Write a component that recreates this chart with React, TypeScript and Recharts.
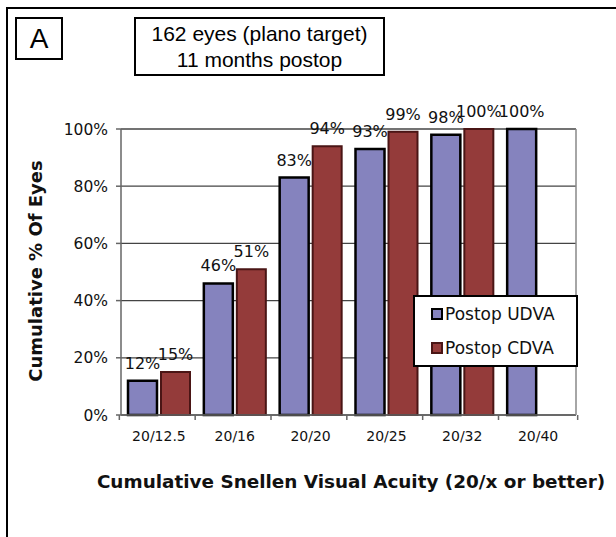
import React from "react";
import { BarChart, Bar, XAxis, YAxis, CartesianGrid, LabelList } from "recharts";

const categories = ["20/12.5", "20/16", "20/20", "20/25", "20/32", "20/40"];
const udva = [12, 46, 83, 93, 98, 100];
const cdva: (number | null)[] = [15, 51, 94, 99, 100, null];
const yTicks = [0, 20, 40, 60, 80, 100];
const seriesNames = ["Postop UDVA", "Postop CDVA"];

const PURPLE = "#8583BE";
const RED = "#943B3A";

const data = categories.map((name, i) => ({ name, udva: udva[i], cdva: cdva[i] }));

const W = 616;
const H = 537;
const X_AXIS_H = 30;
const MARGIN = { top: 129, right: 20, bottom: 122 - X_AXIS_H, left: 0 };
const Y_AXIS_W = 121;
const BAND = (W - MARGIN.right - Y_AXIS_W) / categories.length;

const font = "'DejaVu Sans', Verdana, sans-serif";

// x tick: label at centre, tick marks between categories (Excel style)
const XTick = ({ x, y, payload, index }: any) => {
  const half = BAND / 2;
  const ay = y - 8; // axis line position (tickSize 6 + tickMargin 2)
  return (
    <g>
      <line x1={x - half} y1={ay} x2={x - half} y2={ay + 5} stroke="#666" strokeWidth={1.5} />
      {index === categories.length - 1 && (
        <line x1={x + half} y1={ay} x2={x + half} y2={ay + 5} stroke="#666" strokeWidth={1.5} />
      )}
      <text x={x} y={ay + 21} dy="0.35em" textAnchor="middle" fontSize={14} fontFamily={font} fill="#111">
        {payload.value}
      </text>
    </g>
  );
};

const LegendBox = () => (
  <div
    style={{
      position: "absolute",
      left: 413,
      top: 295,
      width: 165,
      height: 72,
      border: "2px solid #000",
      background: "#fff",
      boxSizing: "border-box",
      fontFamily: font,
      fontSize: 17,
      color: "#111",
      paddingTop: 7,
      paddingLeft: 16,
    }}
  >
    {[
      { label: seriesNames[0], fill: PURPLE, stroke: "#000" },
      { label: seriesNames[1], fill: RED, stroke: "#4a1515" },
    ].map((it, i) => (
      <div key={it.label} style={{ display: "flex", alignItems: "center", height: 20, marginBottom: i === 0 ? 14 : 0 }}>
        <span
          style={{
            display: "inline-block",
            width: 8,
            height: 8,
            background: it.fill,
            border: `2px solid ${it.stroke}`,
            marginRight: 2,
          }}
        />
        {it.label}
      </div>
    ))}
  </div>
);

const pct = (v: any) => (v == null ? "" : `${v}%`);

export default function App() {
  return (
    <div style={{ position: "fixed", left: 0, top: 0, width: W, height: H, background: "#fff", overflow: "hidden" }}>
      {/* outer frame */}
      <div style={{ position: "absolute", left: 6, top: 7, width: 640, height: 560, borderLeft: "2px solid #000", borderTop: "2px solid #000" }} />
      {/* panel letter */}
      <div
        style={{
          position: "absolute", left: 15, top: 17, width: 48, height: 43, border: "2px solid #000", boxSizing: "border-box",
          fontFamily: "'Liberation Sans', Arial, sans-serif", fontSize: 28, display: "flex", alignItems: "center", justifyContent: "center",
        }}
      >
        A
      </div>
      {/* title box */}
      <div
        style={{
          position: "absolute", left: 134, top: 17, width: 251, height: 59, border: "2px solid #000", boxSizing: "border-box",
          fontFamily: "'Liberation Sans', Arial, sans-serif", fontSize: 21, lineHeight: "26px", textAlign: "center", paddingTop: 2,
        }}
      >
        162 eyes (plano target)
        <br />
        11 months postop
      </div>
      {/* y axis title */}
      <div
        style={{
          position: "absolute", left: 35, top: 271, transform: "translate(-50%, -50%) rotate(-90deg)", whiteSpace: "nowrap",
          fontFamily: font, fontWeight: "bold", fontSize: 18, color: "#111",
        }}
      >
        Cumulative % Of Eyes
      </div>
      {/* x axis title */}
      <div
        style={{
          position: "absolute", left: 351, top: 481, transform: "translate(-50%, -50%)", whiteSpace: "nowrap",
          fontFamily: font, fontWeight: "bold", fontSize: 18.4, color: "#111",
        }}
      >
        Cumulative Snellen Visual Acuity (20/x or better)
      </div>
      <div style={{ position: "absolute", left: 0, top: 0 }}>
        <BarChart width={W} height={H} data={data} margin={MARGIN} barCategoryGap={7} barGap={4}>
          <CartesianGrid yAxisId="l" vertical={false} stroke="#444" strokeWidth={1.3} />
          <XAxis
            dataKey="name"
            height={X_AXIS_H}
            axisLine={{ stroke: "#666", strokeWidth: 1.5 }}
            tickLine={false}
            tickSize={6}
            tickMargin={2}
            tick={<XTick />}
            interval={0}
          />
          <YAxis
            yAxisId="l"
            width={Y_AXIS_W}
            domain={[0, 100]}
            ticks={yTicks}
            tickFormatter={(v) => `${v}%`}
            axisLine={{ stroke: "#666", strokeWidth: 1.5 }}
            tickLine={{ stroke: "#666", strokeWidth: 1.5 }}
            tickSize={5}
            tickMargin={8}
            tick={{ fontSize: 15.5, fontFamily: font, fill: "#111" }}
          />
          <YAxis yAxisId="r" orientation="right" width={MARGIN.right} domain={[0, 100]} tick={false} tickLine={false} axisLine={{ stroke: "#888", strokeWidth: 1.5 }} />
          <Bar yAxisId="l" dataKey="udva" name={seriesNames[0]} fill={PURPLE} stroke="#000" strokeWidth={2.5} isAnimationActive={false}>
            <LabelList dataKey="udva" position="top" offset={12} formatter={pct} style={{ fontSize: 16, fontFamily: font, fill: "#111" }} />
          </Bar>
          <Bar yAxisId="l" dataKey="cdva" name={seriesNames[1]} fill={RED} stroke="#4a1515" strokeWidth={2} isAnimationActive={false}>
            <LabelList dataKey="cdva" position="top" offset={12} formatter={pct} style={{ fontSize: 16, fontFamily: font, fill: "#111" }} />
          </Bar>
        </BarChart>
      </div>
      <LegendBox />
    </div>
  );
}
